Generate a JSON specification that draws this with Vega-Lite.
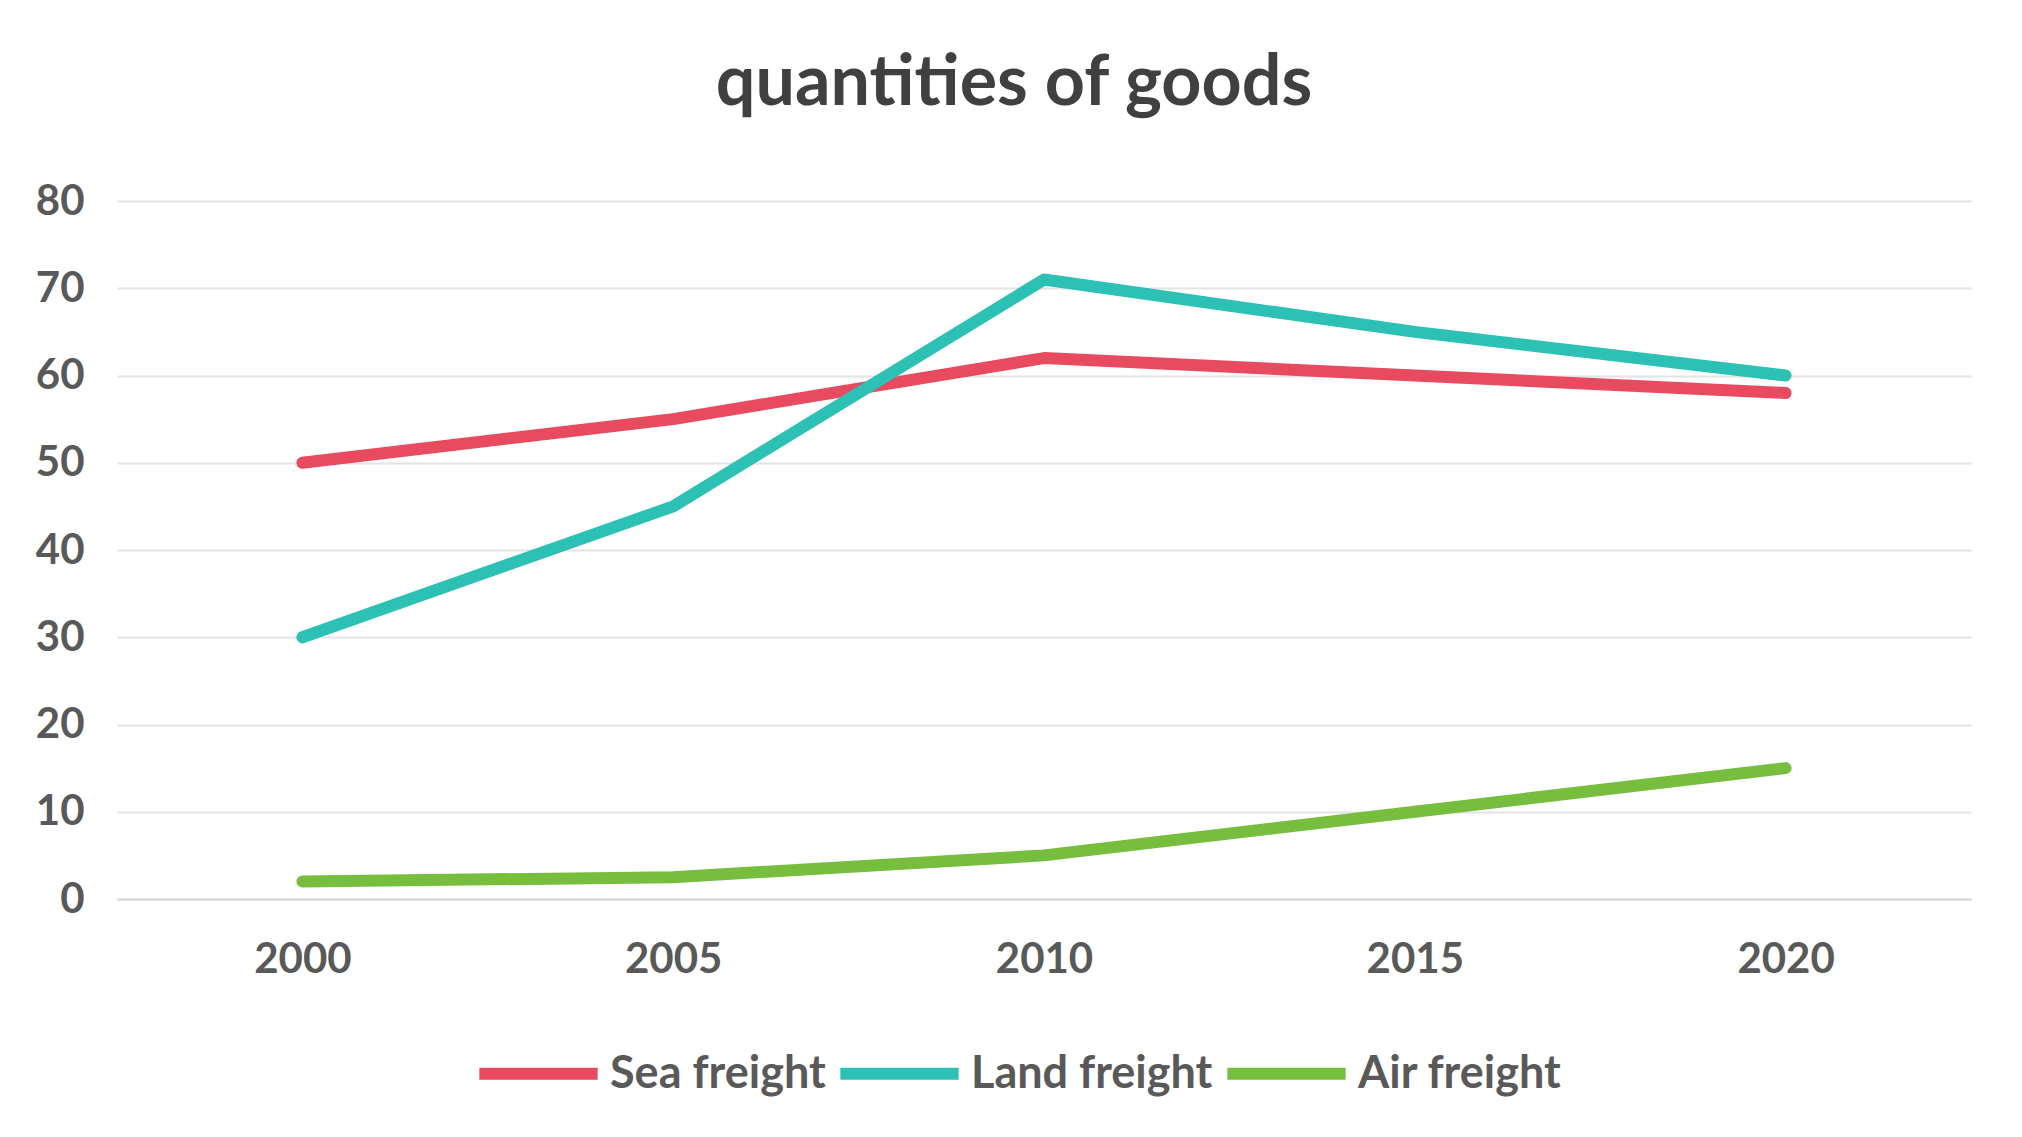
{
  "$schema": "https://vega.github.io/schema/vega-lite/v6.json",
  "width": 1854,
  "height": 698,
  "autosize": "none",
  "padding": {"left": 117, "top": 201, "right": 51, "bottom": 238},
  "background": "white",
  "title": {
    "text": "quantities of goods",
    "font": "Lato",
    "fontSize": 70,
    "fontWeight": "bold",
    "color": "#404040",
    "anchor": "middle",
    "frame": "group",
    "baseline": "alphabetic",
    "dx": -30,
    "offset": 5
  },
  "config": {
    "view": {"stroke": null},
    "axis": {
      "labelFont": "Lato",
      "labelFontWeight": "bold",
      "labelFontSize": 42,
      "labelColor": "#595959",
      "title": null,
      "ticks": false
    },
    "legend": {
      "labelFont": "Lato",
      "labelFontWeight": "bold",
      "labelFontSize": 45,
      "labelColor": "#595959",
      "labelLimit": 0
    }
  },
  "data": {
    "values": [
      {"year": "2000", "series": "Sea freight", "value": 50},
      {"year": "2005", "series": "Sea freight", "value": 55},
      {"year": "2010", "series": "Sea freight", "value": 62},
      {"year": "2015", "series": "Sea freight", "value": 60},
      {"year": "2020", "series": "Sea freight", "value": 58},
      {"year": "2000", "series": "Land freight", "value": 30},
      {"year": "2005", "series": "Land freight", "value": 45},
      {"year": "2010", "series": "Land freight", "value": 71},
      {"year": "2015", "series": "Land freight", "value": 65},
      {"year": "2020", "series": "Land freight", "value": 60},
      {"year": "2000", "series": "Air freight", "value": 2},
      {"year": "2005", "series": "Air freight", "value": 2.5},
      {"year": "2010", "series": "Air freight", "value": 5},
      {"year": "2015", "series": "Air freight", "value": 10},
      {"year": "2020", "series": "Air freight", "value": 15}
    ]
  },
  "mark": {"type": "line", "strokeWidth": 12, "strokeCap": "round", "strokeJoin": "round"},
  "encoding": {
    "x": {
      "field": "year",
      "type": "ordinal",
      "scale": {"type": "point", "padding": 0.5},
      "axis": {
        "labelAngle": 0,
        "labelPadding": 40,
        "domain": true,
        "domainColor": "#D9D9D9",
        "domainWidth": 2,
        "grid": false
      }
    },
    "y": {
      "field": "value",
      "type": "quantitative",
      "scale": {"domain": [0, 80]},
      "axis": {
        "values": [0, 10, 20, 30, 40, 50, 60, 70, 80],
        "domain": false,
        "grid": true,
        "gridColor": "#E4E4E4",
        "gridWidth": 2,
        "labelPadding": 33
      }
    },
    "color": {
      "field": "series",
      "type": "nominal",
      "scale": {
        "domain": ["Sea freight", "Land freight", "Air freight"],
        "range": ["#E84A5F", "#2CC1B4", "#77BE3F"]
      },
      "legend": {
        "title": null,
        "orient": "none",
        "direction": "horizontal",
        "legendX": 356,
        "legendY": 807,
        "symbolType": "stroke",
        "symbolSize": 14000,
        "symbolStrokeWidth": 12,
        "labelOffset": 6,
        "columnPadding": -10
      }
    }
  }
}
